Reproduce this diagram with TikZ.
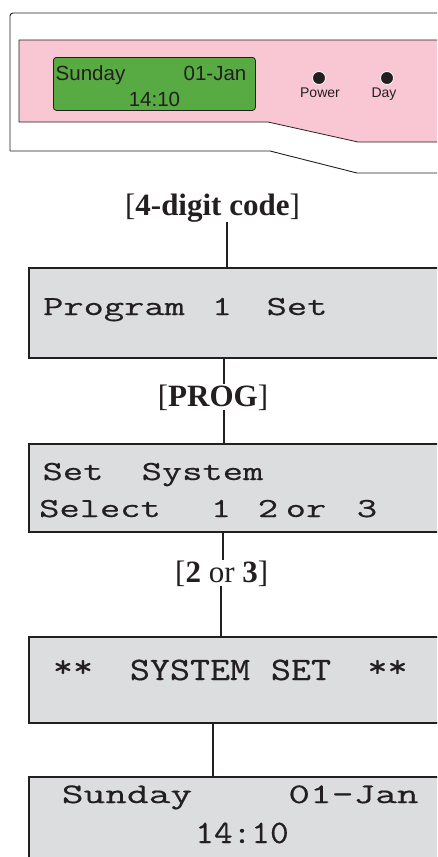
\documentclass[tikz,border=0pt]{standalone}
\usepackage{fontspec}
\setmainfont{Liberation Serif}
\setsansfont{Liberation Sans}
\newfontfamily\lcdfont{lmmono12-regular}[Extension=.otf, FakeStretch=1.43, FakeBold=0.5]
\newfontfamily\lcdbigfont{lmmono12-regular}[Extension=.otf, FakeStretch=1.19, FakeBold=0.5]
\newfontfamily\lcdwidefont{lmmono12-regular}[Extension=.otf, FakeStretch=1.49, FakeBold=0.5]
\newfontfamily\lcdtimefont{lmmono12-regular}[Extension=.otf, FakeStretch=1.11, FakeBold=0.5]
\definecolor{ink}{RGB}{35,31,32}
\definecolor{panelpink}{RGB}{249,199,211}
\definecolor{lcdgreen}{RGB}{88,170,66}
\definecolor{screengray}{RGB}{220,221,223}
\tikzset{
  screen/.style={draw=ink, line width=2pt, fill=screengray, anchor=north west,
    minimum width=430pt, inner sep=0pt},
  word/.style={anchor=base, inner sep=0pt, text=ink,
    font=\lcdfont\fontsize{27.5}{27.5}\selectfont},
  bigword/.style={word, font=\lcdbigfont\fontsize{32.7}{32.7}\selectfont},
  key/.style={anchor=base, inner sep=0pt, text=ink,
    font=\fontsize{31}{31}\selectfont},
  link/.style={draw=ink, line width=2pt},
  led/.style={circle, fill=ink, draw=white, line width=0.8pt,
    minimum size=13pt, inner sep=0pt},
  paneltext/.style={anchor=base, inner sep=0pt, text=ink}
}
\begin{document}
\begin{tikzpicture}[x=1pt, y=-1pt]
\useasboundingbox (0,0) rectangle (437,857);
\clip (0,0) rectangle (437,857);
% front panel
\draw[ink, line width=0.9pt] (445,173) -- (357,173) -- (270,151) -- (10,151);
\draw[ink, line width=0.9pt, rounded corners=3pt] (10,151) -- (10,13) -- (445,13);
\filldraw[fill=panelpink, draw=ink, line width=0.8pt]
  (445,40) -- (19,40) -- (19,122) -- (268,122) -- (358,142) -- (445,142);
\node[draw=ink, fill=lcdgreen, rounded corners=3pt, line width=0.8pt,
  minimum width=202pt, minimum height=53pt, anchor=north west, inner sep=0pt]
  (lcd) at (53,57) {};
\node[paneltext, font=\sffamily\fontsize{20.5}{20.5}\selectfont] (lcdday) at (90.5,80) {Sunday};
\node[paneltext, font=\sffamily\fontsize{20.5}{20.5}\selectfont] (lcddate) at (215,80) {01-Jan};
\node[paneltext, font=\sffamily\fontsize{20.5}{20.5}\selectfont] (lcdtime) at (154.5,106) {14:10};
\node[led] (power) at (319,78) {};
\node[led] (day) at (387,78) {};
\node[paneltext, font=\sffamily\fontsize{14}{14}\selectfont] (powertxt) at (320,97.7) {Power};
\node[paneltext, font=\sffamily\fontsize{14}{14}\selectfont] (daytxt) at (384,97.7) {Day};

% key presses and displays
\node[key] (code) at (212.5,215) {[\textbf{4-digit code}]};
\node[screen, minimum height=90pt] (prog) at (28,267) {};
\node[key] (progkey) at (213,406) {[\textbf{PROG}]};
\node[screen, minimum height=88pt] (sys) at (28,443) {};
\node[key] (numkey) at (221.7,582) {[\textbf{2} or \textbf{3}]};
\node[screen, minimum height=86pt] (done) at (28,636) {};
\node[screen, minimum height=120pt] (home) at (28,776) {};

\draw[link] (code.south -| 227,0) -- (prog.north -| 227,0);
\draw[link] (prog.south -| 223.5,0) -- (progkey.north -| 223.5,0);
\draw[link] (progkey.south -| 224,0) -- (sys.north -| 224,0);
\draw[link] (sys.south -| 223,0) -- (numkey.north -| 223,0);
\draw[link] (numkey.south -| 220.7,0) -- (done.north -| 220.7,0);
\draw[link] (done.south -| 213,0) -- (home.north -| 213,0);

% display texts
\node[word] (p1) at (114,315) {Program};
\node[word] (p2) at (222,315) {1};
\node[word] (p3) at (297,315) {Set};

\node[word] (s1) at (73,480) {Set};
\node[word] (s2) at (202.5,480) {System};
\node[word] (s3) at (100,517) {Select};
\node[word] (s4) at (221,517) {1};
\node[word] (s5) at (268,517) {2};
\node[word] (s6) at (306,517) {or};
\node[word] (s7) at (367,517) {3};

\node[bigword] (d1) at (73,680) {\raisebox{3pt}{**}};
\node[bigword] (d2) at (190,680) {SYSTEM};
\node[bigword] (d3) at (301,680) {SET};
\node[bigword] (d4) at (387.5,680) {\raisebox{3pt}{**}};

\node[word, font=\lcdwidefont\fontsize{28.3}{28.3}\selectfont] (h1) at (127,803) {Sunday};
\node[word, font=\lcdwidefont\fontsize{28.3}{28.3}\selectfont] (h2) at (353.5,803) {01-Jan};
\node[word, font=\lcdtimefont\fontsize{32.7}{32.7}\selectfont] (h3) at (242,843) {14:10};
\end{tikzpicture}
\end{document}
